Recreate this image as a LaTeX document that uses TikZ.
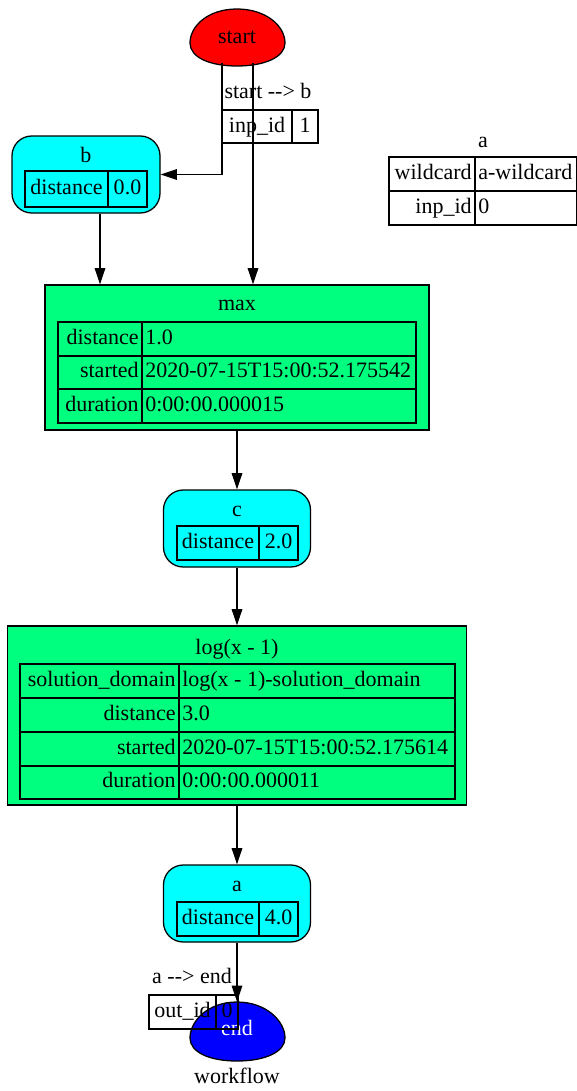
\documentclass[tikz,border=0pt]{standalone}
\usepackage{fontspec}
\setmainfont{Liberation Serif}
\usetikzlibrary{arrows.meta,calc}
\def\pxu{0.709pt}
\definecolor{springg}{RGB}{0,255,127}
\definecolor{cyanf}{RGB}{0,255,255}
\definecolor{redf}{RGB}{255,0,0}
\definecolor{bluef}{RGB}{0,0,255}
\begin{document}
\begin{tikzpicture}[x=\pxu,y=-\pxu,
 every node/.style={font=\fontsize{15.6}{18}\selectfont},
 arr/.style={-{Triangle[length=11.5pt,width=7.5pt]}, line width=0.9pt},
 cyanbox/.style={draw, line width=0.9pt, fill=cyanf, rounded corners=14pt, inner sep=0pt},
 greenbox/.style={draw, line width=0.9pt, fill=springg, inner sep=0pt},
 eggl/.style={inner sep=0pt, minimum width=95*\pxu, minimum height=56*\pxu},
 tbl/.style={draw, line width=0.9pt},
 txt/.style={inner sep=0pt, text height=10.5pt, text depth=3.3pt},
]
\useasboundingbox (0,0) rectangle (577,1091);
% start egg
\draw[fill=redf, line width=0.9pt] (237,9) .. controls (266,9) and (285,26) .. (285,43) .. controls (285,57) and (265,66) .. (237,66) .. controls (209,66) and (190,57) .. (190,43) .. controls (190,26) and (208,9) .. (237,9);
\node[eggl] (start) at (237,38) {};
\node[txt] (startt) at (237,38) {start};
% end egg
\draw[fill=bluef, line width=0.9pt] (237,1002) .. controls (266,1002) and (285,1021) .. (285,1038) .. controls (285,1052) and (265,1061) .. (237,1061) .. controls (209,1061) and (190,1052) .. (190,1038) .. controls (190,1021) and (208,1002) .. (237,1002);
\node[eggl] (end) at (237,1030) {};
\node[txt, text=white] (endt) at (237,1030) {end};
\node[txt] (wf) at (237,1078) {workflow};
% b
\node[cyanbox, minimum width=148*\pxu, minimum height=77*\pxu] (b) at (86,174.5) {};
\node[txt] (bt) at (86,157) {b};
\draw[tbl] (25,171) rectangle (147,207) (108,171) -- (108,207);
\node[txt] (bk) at (66.5,189) {distance};
\node[txt] (bv) at (127.5,189) {0.0};
% standalone a table
\node[txt] (at0) at (483,142) {a};
\draw[tbl] (389,157) rectangle (576.5,225) (475,157) -- (475,225) (389,191) -- (576.5,191);
\node[txt, anchor=east] (ak1) at (472,174) {wildcard};
\node[txt, anchor=west] (av1) at (478,174) {a-wildcard};
\node[txt, anchor=east] (ak2) at (472,208) {inp\_id};
\node[txt, anchor=west] (av2) at (478,208) {0};
% max
\node[greenbox, minimum width=384*\pxu, minimum height=145*\pxu] (max) at (237,357.5) {};
\node[txt] (maxt) at (237,305) {max};
\draw[tbl] (58,322) rectangle (416,423) (142,322) -- (142,423) (58,356) -- (416,356) (58,389) -- (416,389);
\node[txt, anchor=east] (mk1) at (139,339) {distance};
\node[txt, anchor=west] (mv1) at (145,339) {1.0};
\node[txt, anchor=east] (mk2) at (139,372.5) {started};
\node[txt, anchor=west] (mv2) at (145,372.5) {2020-07-15T15:00:52.175542};
\node[txt, anchor=east] (mk3) at (139,406) {duration};
\node[txt, anchor=west] (mv3) at (145,406) {0:00:00.000015};
% c
\node[cyanbox, minimum width=147*\pxu, minimum height=77*\pxu] (c) at (237,528.5) {};
\node[txt] (ct) at (237,511) {c};
\draw[tbl] (177,526) rectangle (298,560) (259,526) -- (259,560);
\node[txt] (ck) at (218,543) {distance};
\node[txt] (cv) at (278.5,543) {2.0};
% log
\node[greenbox, minimum width=459*\pxu, minimum height=179*\pxu] (log) at (237,715.5) {};
\node[txt] (logt) at (237,649) {log(x - 1)};
\draw[tbl] (20,664) rectangle (455,799) (179,664) -- (179,799) (20,698) -- (455,698) (20,732) -- (455,732) (20,766) -- (455,766);
\node[txt, anchor=east] (lk1) at (176,681) {solution\_domain};
\node[txt, anchor=west] (lv1) at (182,681) {log(x - 1)-solution\_domain};
\node[txt, anchor=east] (lk2) at (176,715) {distance};
\node[txt, anchor=west] (lv2) at (182,715) {3.0};
\node[txt, anchor=east] (lk3) at (176,749) {started};
\node[txt, anchor=west] (lv3) at (182,749) {2020-07-15T15:00:52.175614};
\node[txt, anchor=east] (lk4) at (176,782.5) {duration};
\node[txt, anchor=west] (lv4) at (182,782.5) {0:00:00.000011};
% a
\node[cyanbox, minimum width=147*\pxu, minimum height=77*\pxu] (a) at (237,903.5) {};
\node[txt] (att) at (237,886) {a};
\draw[tbl] (177,902) rectangle (298,936) (259,902) -- (259,936);
\node[txt] (ak) at (218,919) {distance};
\node[txt] (av) at (278.5,919) {4.0};
% edge labels
\node[txt] (l1) at (268,93) {start -{}-{}> b};
\draw[tbl] (222,110) rectangle (318,143) (292,110) -- (292,143);
\node[txt] (l1k) at (257,127) {inp\_id};
\node[txt] (l1v) at (305,127) {1};
\node[txt] (l2) at (192,978) {a -{}-{}> end};
\draw[tbl] (149,995) rectangle (238,1029) (216,995) -- (216,1029);
\node[txt] (l2k) at (182.5,1012) {out\_id};
\node[txt] (l2v) at (227,1012) {0};
% edges
\draw[arr] ($(start.south)+(-15,-3)$) |- (b.east);
\draw[arr] ($(start.south)+(16,-3)$) -- ($(max.north)+(16,0)$);
\draw[arr] ($(b.south)+(14,0)$) -- ($(max.north)+(-137,0)$);
\draw[arr] (max.south) -- (c.north);
\draw[arr] (c.south) -- (log.north);
\draw[arr] (log.south) -- (a.north);
\draw[arr] (a.south) -- (end.north);
\end{tikzpicture}
\end{document}
